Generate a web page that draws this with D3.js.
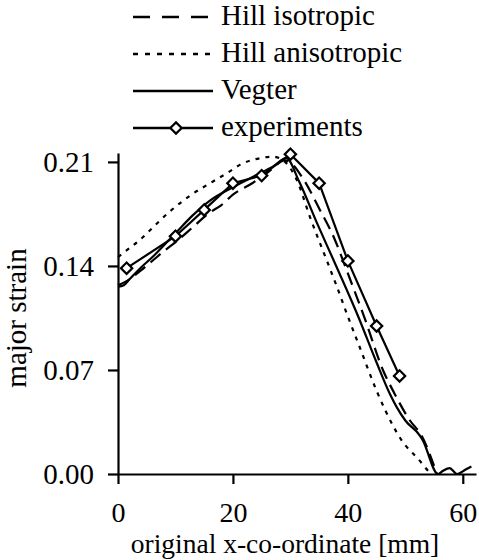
<!DOCTYPE html>
<html>
<head>
<meta charset="utf-8">
<script src="https://cdn.jsdelivr.net/npm/d3@7"></script>
<style>
  body { margin: 0; background: #fff; }
  svg text { font-family: "Liberation Serif", Tinos, "Times New Roman", "Nimbus Roman", "DejaVu Serif", serif; fill: #000; }
</style>
</head>
<body>
<div id="chart"></div>
<script>
// experiments (diamonds)
const expX = [1.5, 10, 15, 20, 25, 30, 35, 40, 45, 49];
const expY = [0.1385, 0.160, 0.1777, 0.1957, 0.2008, 0.2152, 0.1957, 0.1434, 0.0996, 0.066];

// Vegter
const vegterX = [0, 1, 2, 4, 6, 8, 10, 13, 16, 20, 24, 27, 29.3, 31.5, 34.5, 37.5, 41.8, 45, 47.3, 48.5, 50, 52.5, 53, 55.7, 56.5, 57.7, 59, 60.5, 61.5];
const vegterY = [0.126, 0.127, 0.131, 0.139, 0.146, 0.154, 0.162, 0.174, 0.184, 0.193, 0.201, 0.207, 0.2125, 0.197, 0.170, 0.144, 0.106, 0.075, 0.054, 0.045, 0.036, 0.026, 0.023, 0.0, 0.002, 0.004, 0.0, 0.003, 0.005];

// Hill isotropic
const hillIsoX = [0, 2, 4, 6, 8, 10, 13, 16, 18, 20, 23.5, 26.4, 29, 30, 32, 35.1, 37.7, 39.8, 43, 46.1, 48, 50.8, 52.8, 55.5];
const hillIsoY = [0.127, 0.131, 0.137, 0.1435, 0.150, 0.156, 0.166, 0.176, 0.181, 0.188, 0.196, 0.204, 0.211, 0.2095, 0.200, 0.178, 0.158, 0.137, 0.104, 0.070, 0.055, 0.036, 0.026, 0.0];

// Hill anisotropic
const hillAnisoX = [0, 2, 3.8, 5.3, 9, 12.8, 16.6, 19.2, 21.2, 24.7, 27, 28.75, 31.1, 33.4, 36.5, 38, 40, 42, 45, 46.5, 49.3, 52.5, 54, 54.6];
const hillAnisoY = [0.146, 0.152, 0.1575, 0.163, 0.1766, 0.188, 0.197, 0.203, 0.208, 0.2125, 0.2135, 0.211, 0.198, 0.173, 0.142, 0.127, 0.106, 0.086, 0.056, 0.043, 0.023, 0.009, 0.002, 0.0];

const xTicks = [0, 20, 40, 60];
const yTicks = [0, 0.07, 0.14, 0.21];
const legendNames = ["Hill isotropic", "Hill anisotropic", "Vegter", "experiments"];

const W = 479, H = 560;
const fontSize = 29;
const axisFont = 28;
const titleFont = 27.5;
const serif = '"Liberation Serif", Tinos, "Times New Roman", "Nimbus Roman", "DejaVu Serif", serif';

const svg = d3.select("#chart").append("svg")
    .attr("width", W)
    .attr("height", H)
    .attr("font-family", serif);

const x = d3.scaleLinear().domain([0, 62.3]).range([118, 476]);
const y = d3.scaleLinear().domain([0, 0.216]).range([474, 153]);

// axes
const gx = svg.append("g")
    .attr("transform", `translate(0,${y(0)})`)
    .call(d3.axisBottom(x).tickValues(xTicks).tickSize(10).tickSizeOuter(0).tickPadding(18));
const gy = svg.append("g")
    .attr("transform", `translate(${x(0)},0)`)
    .call(d3.axisLeft(y).tickValues(yTicks).tickFormat(d3.format(".2f")).tickSize(10).tickSizeOuter(0).tickPadding(14));

[gx, gy].forEach((g, i) => {
    const fs = i === 0 ? axisFont : fontSize;
    g.attr("font-family", serif).attr("font-size", fs);
    g.select(".domain").attr("stroke", "#000").attr("stroke-width", 2.2);
    g.selectAll(".tick line").attr("stroke", "#000").attr("stroke-width", 2.2);
    g.selectAll(".tick text")
        .style("font-family", serif)
        .style("font-size", fs + "px")
        .attr("fill", "#000");
});

// axis titles
svg.append("text")
    .attr("x", 285)
    .attr("y", 553)
    .attr("text-anchor", "middle")
    .style("font-family", serif)
    .style("font-size", titleFont + "px")
    .text("original x-co-ordinate [mm]");

svg.append("text")
    .attr("transform", "translate(26,318)rotate(-90)")
    .attr("text-anchor", "middle")
    .style("font-family", serif)
    .style("font-size", fontSize + "px")
    .text("major strain");

// lines
const smooth = d3.line().x(d => x(d[0])).y(d => y(d[1])).curve(d3.curveMonotoneX);
const straight = d3.line().x(d => x(d[0])).y(d => y(d[1]));

const zip = (a, b) => a.map((v, i) => [v, b[i]]);

svg.append("path")
    .attr("d", smooth(zip(hillAnisoX, hillAnisoY)))
    .attr("fill", "none")
    .attr("stroke", "#000")
    .attr("stroke-width", 2.2)
    .attr("stroke-dasharray", "4,6");

svg.append("path")
    .attr("d", smooth(zip(hillIsoX, hillIsoY)))
    .attr("fill", "none")
    .attr("stroke", "#000")
    .attr("stroke-width", 2.2)
    .attr("stroke-dasharray", "13,7");

svg.append("path")
    .attr("d", smooth(zip(vegterX, vegterY)))
    .attr("fill", "none")
    .attr("stroke", "#000")
    .attr("stroke-width", 2.2);

svg.append("path")
    .attr("d", straight(zip(expX, expY)))
    .attr("fill", "none")
    .attr("stroke", "#000")
    .attr("stroke-width", 2.2);

const diamond = d3.symbol().type(d3.symbolSquare).size(64);

svg.selectAll("path.exp")
    .data(zip(expX, expY))
    .enter().append("path")
    .attr("class", "exp")
    .attr("d", diamond)
    .attr("transform", d => `translate(${x(d[0])},${y(d[1])})rotate(45)`)
    .attr("fill", "#fff")
    .attr("stroke", "#000")
    .attr("stroke-width", 2.2);

// legend
const legendDash = ["17,12", "5,7", null, null];
const legendEnd = [208, 213, 213, 213];
const leg = svg.append("g");
legendNames.forEach((name, i) => {
    const ly = 17 + i * 37;
    leg.append("line")
        .attr("x1", 133).attr("x2", legendEnd[i])
        .attr("y1", ly).attr("y2", ly)
        .attr("stroke", "#000")
        .attr("stroke-width", 2.7)
        .attr("stroke-dasharray", legendDash[i]);
    if (i === 3) {
        leg.append("path")
            .attr("d", diamond)
            .attr("transform", `translate(176,${ly})rotate(45)`)
            .attr("fill", "#fff")
            .attr("stroke", "#000")
            .attr("stroke-width", 2.2);
    }
    leg.append("text")
        .attr("x", 221)
        .attr("y", ly + 8)
        .style("font-family", serif)
        .style("font-size", fontSize + "px")
        .text(name);
});
</script>
</body>
</html>
